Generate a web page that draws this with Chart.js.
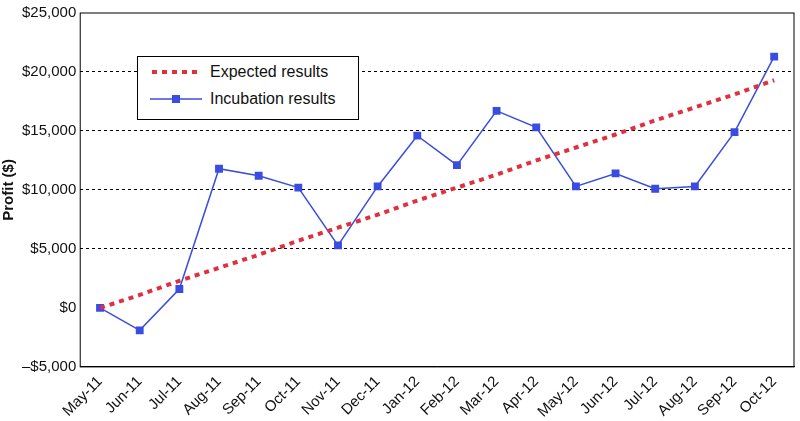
<!DOCTYPE html>
<html>
<head>
<meta charset="utf-8">
<script src="https://cdn.jsdelivr.net/npm/chart.js@4"></script>
<style>
  body { margin: 0; background: #fff; font-family: "Liberation Sans", Arial, sans-serif; }
  #wrap { position: relative; width: 800px; height: 421px; }
  #legenda {
    position: absolute; left: 137px; top: 56px; width: 220px; height: 62px;
    border: 1px solid #000; background: #fff; font-size: 16px; color: #111;
  }
  .item { position: absolute; left: 12px; display: flex; align-items: center; }
  .item span { margin-left: 8px; }
</style>
</head>
<body>
<div id="wrap">
  <canvas id="grafico" width="800" height="421"></canvas>
  <div id="legenda">
    <div class="item" style="top:6px;">
      <svg width="52" height="10"><line x1="2" y1="5" x2="52" y2="5" stroke="#e03040" stroke-width="4" stroke-dasharray="5,5"/></svg>
      <span>Expected results</span>
    </div>
    <div class="item" style="top:33px;">
      <svg width="52" height="12"><line x1="0" y1="6" x2="52" y2="6" stroke="#3a4de0" stroke-width="1.5"/><rect x="22" y="2" width="8" height="8" fill="#3a4de0"/></svg>
      <span>Incubation results</span>
    </div>
  </div>
</div>
<script>
// categorias e séries
const meses = ["May-11","Jun-11","Jul-11","Aug-11","Sep-11","Oct-11","Nov-11","Dec-11","Jan-12",
               "Feb-12","Mar-12","Apr-12","May-12","Jun-12","Jul-12","Aug-12","Sep-12","Oct-12"];
const esperado   = [0,1100,2300,3400,4500,5700,6800,7900,9100,10200,11300,12500,13600,14700,15900,17000,18100,19300];
const incubacao  = [0,-1900,1600,11800,11200,10200,5300,10300,14600,12100,16700,15300,10300,11400,10100,10300,14900,21300];
const ticksY     = [-5000,0,5000,10000,15000,20000,25000];

const COR_AZUL = "#3a4de0";
const COR_VERM = "#e03040";

function fmtDolar(v) {
    const s = "$" + Math.abs(v).toLocaleString("en-US");
    return v < 0 ? "–" + s : s;
}

new Chart(document.getElementById("grafico"), {
    type: "line",
    data: {
        labels: meses,
        datasets: [
            {
                label: "Expected results",
                data: esperado,
                borderColor: COR_VERM,
                borderWidth: 4,
                borderDash: [5, 5],
                pointRadius: 0,
                fill: false,
                tension: 0,
            },
            {
                label: "Incubation results",
                data: incubacao,
                borderColor: COR_AZUL,
                backgroundColor: COR_AZUL,
                borderWidth: 1.5,
                pointStyle: "rect",
                pointRadius: 4.5,
                fill: false,
                tension: 0,
            },
        ],
    },
    options: {
        responsive: false,
        animation: false,
        layout: { padding: { top: 4, right: 3, left: 0, bottom: 0 } },
        plugins: { legend: { display: false }, tooltip: { enabled: false } },
        scales: {
            x: {
                offset: true,
                grid: { display: false, tickLength: 6, color: "#000" },
                border: { color: "#000", width: 1 },
                ticks: {
                    color: "#111", maxRotation: 45, minRotation: 45, padding: 0,
                    font: { size: 15, family: "Liberation Sans" },
                },
            },
            y: {
                min: -5000, max: 25000,
                afterBuildTicks: ax => { ax.ticks = ticksY.map(v => ({ value: v })); },
                grid: {
                    color: ctx => (ctx.tick && ctx.tick.value > 0 && ctx.tick.value < 25000) ? "#000" : "rgba(0,0,0,0)",
                    drawTicks: false,
                },
                border: { display: false, dash: [3, 3] },
                ticks: {
                    color: "#111", padding: 4,
                    font: { size: 15, family: "Liberation Sans" },
                    callback: v => fmtDolar(v),
                },
                title: {
                    display: true, text: "Profit ($)", color: "#111", padding: 0,
                    font: { size: 15, weight: "bold", family: "Liberation Sans" },
                },
            },
        },
    },
    plugins: [{
        id: "moldura",
        afterDraw(chart) {
            const { ctx, chartArea: a } = chart;
            ctx.save();
            ctx.strokeStyle = "#000";
            ctx.lineWidth = 1;
            ctx.strokeRect(a.left, a.top, a.right - a.left, a.bottom - a.top);
            ctx.restore();
        },
    }],
});
</script>
</body>
</html>
